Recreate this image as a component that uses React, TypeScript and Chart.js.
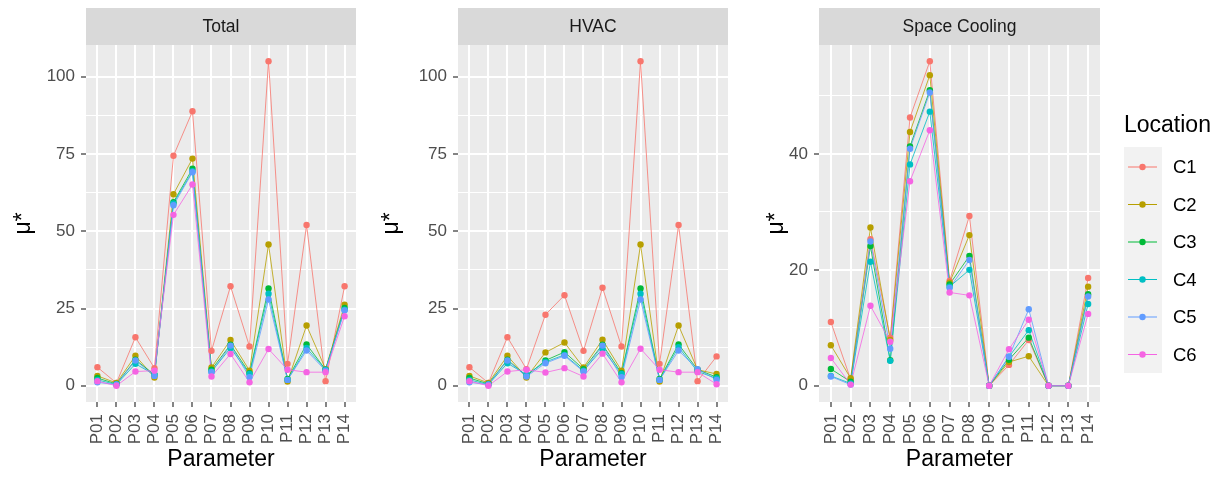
import React, { useEffect, useRef } from 'react';
import { Chart, registerables } from 'chart.js';

Chart.register(...registerables);
Chart.defaults.font.family = '"Liberation Sans", Arial, sans-serif';

const PARAMS = ['P01', 'P02', 'P03', 'P04', 'P05', 'P06', 'P07', 'P08', 'P09', 'P10', 'P11', 'P12', 'P13', 'P14'];
const LOCATIONS = ['C1', 'C2', 'C3', 'C4', 'C5', 'C6'];
const COLORS = ['#F8766D', '#B79F00', '#00BA38', '#00BFC4', '#619CFF', '#F564E3'];

// Total
const TOTAL_C1 = [6.0, 0.9, 15.7, 5.7, 74.4, 88.8, 11.3, 32.2, 12.7, 105.0, 7.1, 52.0, 1.5, 32.2];
const TOTAL_C2 = [3.2, 0.9, 9.7, 2.7, 62.0, 73.5, 5.9, 14.8, 4.9, 45.7, 1.4, 19.5, 5.4, 26.2];
const TOTAL_C3 = [2.5, 0.6, 8.4, 3.6, 59.4, 70.2, 5.2, 13.3, 4.1, 31.5, 2.2, 13.4, 5.2, 25.2];
const TOTAL_C4 = [1.9, 0.4, 7.1, 3.6, 59.0, 69.4, 4.6, 12.2, 3.8, 29.8, 1.9, 12.2, 5.2, 24.6];
const TOTAL_C5 = [1.1, 0.4, 8.2, 3.2, 58.4, 69.1, 4.4, 13.0, 2.8, 27.9, 1.9, 11.4, 4.9, 24.4];
const TOTAL_C6 = [1.5, 0.0, 4.6, 4.9, 55.3, 65.1, 3.0, 10.3, 1.1, 11.9, 5.2, 4.4, 4.4, 22.5];

// HVAC
const HVAC_C1 = [6.0, 0.9, 15.7, 5.4, 23.0, 29.3, 11.3, 31.7, 12.7, 105.0, 7.1, 52.0, 1.5, 9.5];
const HVAC_C2 = [3.2, 0.9, 9.7, 2.7, 10.8, 14.0, 5.9, 14.9, 4.9, 45.7, 1.4, 19.5, 5.2, 3.8];
const HVAC_C3 = [2.5, 0.6, 8.4, 3.2, 8.2, 10.9, 5.4, 13.3, 4.1, 31.5, 2.2, 13.4, 5.2, 2.8];
const HVAC_C4 = [1.9, 0.4, 7.3, 3.6, 7.7, 10.0, 4.9, 11.9, 3.8, 29.8, 1.9, 12.5, 4.6, 2.4];
const HVAC_C5 = [1.1, 0.4, 8.2, 3.0, 7.3, 9.7, 4.6, 13.0, 2.8, 27.9, 1.9, 11.4, 5.4, 1.9];
const HVAC_C6 = [1.5, 0.0, 4.6, 5.2, 4.3, 5.7, 3.0, 10.4, 1.1, 12.0, 5.2, 4.4, 4.4, 0.5];

// Space Cooling
const COOL_C1 = [11.0, 1.1, 25.3, 8.3, 46.3, 56.0, 18.1, 29.3, 0, 3.6, 7.9, 0, 0, 18.6];
const COOL_C2 = [7.0, 1.3, 27.3, 7.9, 43.8, 53.6, 17.8, 26.0, 0, 4.1, 5.1, 0, 0, 17.1];
const COOL_C3 = [2.9, 0.7, 24.1, 4.4, 41.3, 51.0, 17.5, 22.4, 0, 4.5, 8.3, 0, 0, 15.8];
const COOL_C4 = [1.7, 0.4, 21.4, 4.3, 38.2, 47.3, 17.1, 20.0, 0, 5.0, 9.6, 0, 0, 14.1];
const COOL_C5 = [1.6, 0.2, 24.9, 6.4, 40.9, 50.6, 16.9, 21.7, 0, 5.0, 13.2, 0, 0, 15.4];
const COOL_C6 = [4.8, 0.2, 13.8, 7.6, 35.3, 44.1, 16.1, 15.6, 0, 6.3, 11.4, 0, 0, 12.4];

const TOTAL_Y_TICKS = [0, 25, 50, 75, 100];
const HVAC_Y_TICKS = [0, 25, 50, 75, 100];
const COOL_Y_TICKS = [0, 20, 40];

const TICK_FONT = 17;
const TITLE_FONT = 23;

type PanelProps = {
  title: string;
  series: number[][];
  yTicks: number[];
  left: number;
  width: number;
  axisWidth: number;
  titlePad: number;
  padRight: number;
  legend?: boolean;
};

function Panel({ title, series, yTicks, left, width, axisWidth, titlePad, padRight, legend }: PanelProps) {
  const ref = useRef<HTMLCanvasElement>(null);
  useEffect(() => {
    const all = series.flat();
    const lo = Math.min(...all);
    const hi = Math.max(...all);
    const ext = (hi - lo) * 0.05;
    const step = yTicks[1] - yTicks[0];
    const half = step / 2;
    const isMajor = (v: number) => Math.abs(v / step - Math.round(v / step)) < 1e-6;

    const datasets: any[] = [];
    series.forEach((vals, i) => {
      datasets.push({
        label: LOCATIONS[i] + ' line',
        data: vals.map((v, j) => ({ x: j, y: v })),
        borderColor: COLORS[i],
        borderWidth: 0.8,
        pointRadius: 0,
        showLine: true,
        fill: false,
        tension: 0,
        order: 20 - i,
      });
    });
    series.forEach((vals, i) => {
      datasets.push({
        label: LOCATIONS[i],
        data: vals.map((v, j) => ({ x: j, y: v })),
        backgroundColor: COLORS[i],
        borderColor: COLORS[i],
        pointRadius: 3.2,
        pointBorderWidth: 0,
        showLine: false,
        order: 10 - i,
      });
    });

    const stripPlugin = {
      id: 'strip',
      beforeDraw(chart: any) {
        const { ctx, chartArea } = chart;
        ctx.save();
        ctx.fillStyle = '#EBEBEB';
        ctx.fillRect(chartArea.left, chartArea.top, chartArea.right - chartArea.left, chartArea.bottom - chartArea.top);
        ctx.fillStyle = '#D9D9D9';
        ctx.fillRect(chartArea.left, 8, chartArea.right - chartArea.left, chartArea.top - 8);
        ctx.fillStyle = '#1A1A1A';
        ctx.font = '17.5px "Liberation Sans", Arial, sans-serif';
        ctx.textAlign = 'center';
        ctx.textBaseline = 'middle';
        ctx.fillText(title, (chartArea.left + chartArea.right) / 2, 27);
        ctx.restore();
      },
    };

    const legendPlugin = {
      id: 'gglegend',
      afterDraw(chart: any) {
        if (!legend) return;
        const { ctx } = chart;
        const x0 = 384;
        ctx.save();
        ctx.fillStyle = '#000000';
        ctx.font = TITLE_FONT + 'px "Liberation Sans", Arial, sans-serif';
        ctx.textAlign = 'left';
        ctx.textBaseline = 'middle';
        ctx.fillText('Location', x0, 126);
        ctx.fillStyle = '#F2F2F2';
        ctx.fillRect(x0, 147, 38, 226);
        const ys = [167, 204.5, 242, 279.5, 317, 354.5];
        LOCATIONS.forEach((name, i) => {
          const y = ys[i];
          ctx.strokeStyle = COLORS[i];
          ctx.lineWidth = 1;
          ctx.beginPath();
          ctx.moveTo(x0 + 4, y);
          ctx.lineTo(x0 + 33, y);
          ctx.stroke();
          ctx.fillStyle = COLORS[i];
          ctx.beginPath();
          ctx.arc(x0 + 18.5, y, 3.2, 0, Math.PI * 2);
          ctx.fill();
          ctx.fillStyle = '#000000';
          ctx.font = '18.5px "Liberation Sans", Arial, sans-serif';
          ctx.fillText(name, x0 + 49, y + 1);
        });
        ctx.restore();
      },
    };

    const chart = new Chart(ref.current as HTMLCanvasElement, {
      type: 'line',
      data: { datasets },
      plugins: [stripPlugin, legendPlugin],
      options: {
        responsive: false,
        animation: false,
        events: [],
        devicePixelRatio: 1,
        layout: { padding: { left: 0, right: padRight, top: 45, bottom: 0 } },
        plugins: { legend: { display: false }, tooltip: { enabled: false } },
        scales: {
          x: {
            type: 'linear',
            min: -0.6,
            max: PARAMS.length - 1 + 0.6,
            afterBuildTicks: (s: any) => {
              s.ticks = PARAMS.map((_, i) => ({ value: i }));
            },
            afterFit: (s: any) => {
              s.height = 75;
              s.paddingLeft = 0;
              s.paddingRight = 0;
            },
            grid: { color: '#FFFFFF', lineWidth: 2, tickColor: '#333333', tickWidth: 1.2, tickLength: 5, drawTicks: true },
            border: { display: false },
            ticks: {
              autoSkip: false,
              minRotation: 90,
              maxRotation: 90,
              padding: 7,
              color: '#4D4D4D',
              font: { size: TICK_FONT },
              callback: (v: any) => PARAMS[Math.round(Number(v))] ?? '',
            },
            title: { display: true, text: 'Parameter', color: '#000000', font: { size: TITLE_FONT }, padding: { top: 0, bottom: 4 } },
          },
          y: {
            type: 'linear',
            min: lo - ext,
            max: hi + ext,
            afterBuildTicks: (s: any) => {
              const t: any[] = [];
              for (let k = Math.ceil(s.min / half); k * half <= s.max; k++) t.push({ value: k * half });
              s.ticks = t;
            },
            afterFit: (s: any) => {
              s.width = axisWidth;
              s.paddingTop = 0;
              s.paddingBottom = 0;
            },
            grid: {
              color: '#FFFFFF',
              lineWidth: (c: any) => (isMajor(c.tick.value) ? 2 : 1),
              tickColor: (c: any) => (isMajor(c.tick.value) ? '#333333' : 'rgba(0,0,0,0)'),
              tickWidth: 1.2,
              tickLength: 5,
              drawTicks: true,
            },
            border: { display: false },
            ticks: {
              autoSkip: false,
              padding: 6,
              color: '#4D4D4D',
              font: { size: TICK_FONT },
              callback: (v: any) => (isMajor(Number(v)) ? String(Math.round(Number(v))) : ''),
            },
            title: { display: true, text: 'μ*', color: '#000000', font: { size: TITLE_FONT }, padding: { top: titlePad, bottom: 0 } },
          },
        },
      } as any,
    });
    return () => chart.destroy();
  }, []);
  return (
    <canvas
      ref={ref}
      width={width}
      height={477}
      style={{ position: 'absolute', left, top: 0, width, height: 477 }}
    />
  );
}

export default function App() {
  return (
    <div style={{ position: 'absolute', left: 0, top: 0, width: 1221, height: 477, background: '#FFFFFF' }}>
      <Panel
        title="Total"
        series={[TOTAL_C1, TOTAL_C2, TOTAL_C3, TOTAL_C4, TOTAL_C5, TOTAL_C6]}
        yTicks={TOTAL_Y_TICKS}
        left={0}
        width={370}
        axisWidth={86}
        titlePad={10}
        padRight={14}
      />
      <Panel
        title="HVAC"
        series={[HVAC_C1, HVAC_C2, HVAC_C3, HVAC_C4, HVAC_C5, HVAC_C6]}
        yTicks={HVAC_Y_TICKS}
        left={370}
        width={370}
        axisWidth={88}
        titlePad={8}
        padRight={12}
      />
      <Panel
        title="Space Cooling"
        series={[COOL_C1, COOL_C2, COOL_C3, COOL_C4, COOL_C5, COOL_C6]}
        yTicks={COOL_Y_TICKS}
        left={740}
        width={481}
        axisWidth={79}
        titlePad={23}
        padRight={121}
        legend
      />
    </div>
  );
}
